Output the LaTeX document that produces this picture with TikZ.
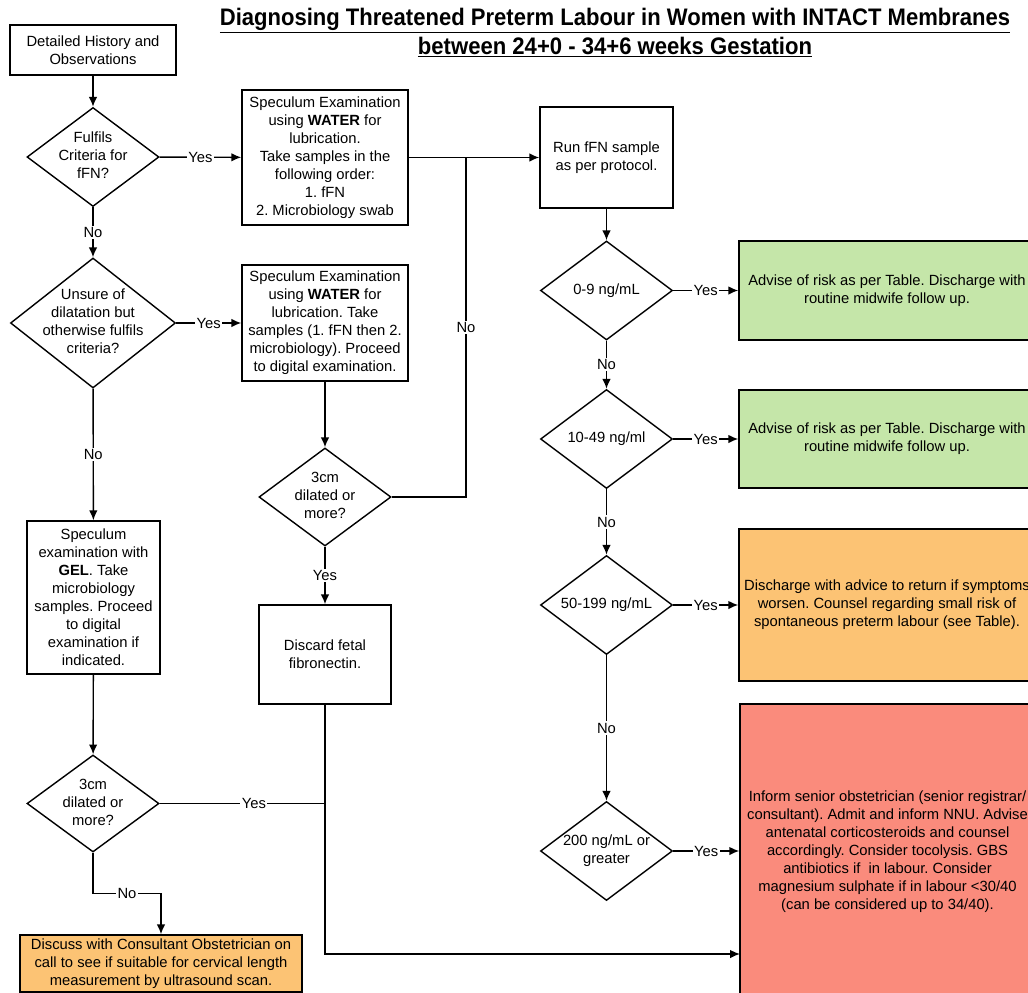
\documentclass[tikz,border=0pt]{standalone}
\usepackage{fontspec}
\setmainfont{Liberation Sans}
\usepackage{graphicx}
\usetikzlibrary{shapes.geometric, arrows.meta, positioning}
\tikzset{>={Latex[length=7pt, width=6pt]}}
\frenchspacing
\definecolor{lowrisk}{HTML}{C5E6A9}
\definecolor{midrisk}{HTML}{FCC374}
\definecolor{highrisk}{HTML}{FA8B7C}
% text of a decision, kept from growing the diamond
\newcommand{\qtext}[1]{\smash{\makebox[0pt]{\raisebox{-3pt}{\begin{tabular}{@{}c@{}}#1\end{tabular}}}}}
\tikzset{
  procbox/.style={draw, line width=1pt, align=center, inner sep=2pt},
  decision/.style={diamond, draw, line width=1pt, inner sep=0pt,
    minimum width=3.3cm, minimum height=2.475cm},
  lbl/.style={fill=white, inner sep=1pt},
}

\begin{document}
\begin{tikzpicture}[x=0.025cm, y=-0.025cm, line width=1pt,
  font=\fontsize{10.5}{12.8}\selectfont]
\useasboundingbox (0,0) rectangle (1028,993);
\clip (0,0) rectangle (1028,993);

\node (title1) at (615,21) {\resizebox{19.75cm}{\height}{\fontsize{17}{19}\selectfont\bfseries\underline{Diagnosing Threatened Preterm Labour in Women with INTACT Membranes}}};
\node (title2) at (615,47) {\resizebox{9.85cm}{\height}{\fontsize{17}{19}\selectfont\bfseries\underline{between 24+0 - 34+6 weeks Gestation}}};

% left column
\node[procbox, minimum width=4.15cm, minimum height=1.25cm] (hist) at (93,50) {Detailed History and\\Observations};
\node[decision] (d1) at (93,157) {\qtext{Fulfils\\Criteria for\\fFN?}};
\node[decision, minimum width=4.125cm, minimum height=3.25cm] (d2) at (93,323) {\qtext{Unsure of\\dilatation but\\otherwise fulfils\\criteria?}};
\node[procbox, minimum width=3.325cm, minimum height=3.825cm] (gel) at (93.5,597.5) {Speculum\\examination with\\\textbf{GEL}. Take\\microbiology\\samples. Proceed\\to digital\\examination if\\indicated.};
\node[decision, minimum height=2.425cm] (d4) at (93,803.5) {\qtext{3cm\\dilated or\\more?}};
\node[procbox, fill=midrisk, minimum width=7.05cm, minimum height=1.425cm] (consult) at (161,963.5) {Discuss with Consultant Obstetrician on\\call to see if suitable for cervical length\\measurement by ultrasound scan.};

% middle column
\node[procbox, minimum width=4.15cm, minimum height=3.375cm] (spec1) at (325,157.5) {Speculum Examination\\using \textbf{WATER} for\\lubrication.\\Take samples in the\\following order:\\1. fFN\\2. Microbiology swab};
\node[procbox, minimum width=4.15cm, minimum height=2.9cm] (spec2) at (325,323) {Speculum Examination\\using \textbf{WATER} for\\lubrication. Take\\samples (1. fFN then 2.\\microbiology). Proceed\\to digital examination.};
\node[decision, minimum height=2.45cm] (d3) at (325,497) {\qtext{3cm\\dilated or\\more?}};
\node[procbox, minimum width=3.3cm, minimum height=2.475cm] (discard) at (325,654.5) {Discard fetal\\fibronectin.};

% fFN column
\node[procbox, minimum width=3.325cm, minimum height=2.525cm] (run) at (606.5,157.5) {Run fFN sample\\as per protocol.};
\node[decision] (d5) at (606.5,290.5) {\qtext{0-9 ng/mL}};
\node[decision] (d6) at (606.5,439) {\qtext{10-49 ng/ml}};
\node[decision] (d7) at (606.5,605) {\qtext{50-199 ng/mL}};
\node[decision] (d8) at (606.5,851) {\qtext{200 ng/mL or\\greater}};

% outcomes
\node[procbox, fill=lowrisk, minimum width=7.4cm, minimum height=2.475cm] (green1) at (887,290.5) {Advise of risk as per Table. Discharge with\\routine midwife follow up.};
\node[procbox, fill=lowrisk, minimum width=7.4cm, minimum height=2.45cm] (green2) at (887,439) {Advise of risk as per Table. Discharge with\\routine midwife follow up.};
\node[procbox, fill=midrisk, minimum width=7.4cm, minimum height=3.8cm] (amber) at (887,605) {Discharge with advice to return if symptoms\\worsen. Counsel regarding small risk of\\spontaneous preterm labour (see Table).};
\node[procbox, fill=highrisk, minimum width=7.375cm, minimum height=7.4cm] (red) at (887.5,852) {Inform senior obstetrician (senior registrar/\\consultant). Admit and inform NNU. Advise\\antenatal corticosteroids and counsel\\accordingly. Consider tocolysis. GBS\\antibiotics if\ \ in labour. Consider\\magnesium sulphate if in labour <30/40\\(can be considered up to 34/40).};

\coordinate (j1) at (466,157.5);
\coordinate (j2) at (discard.south |- d4.east);
\coordinate (j3) at (740,954);

\draw[->] (hist) -- (d1);
\draw[->] (d1) -- node[lbl]{Yes} (spec1);
\draw[->] (spec1) -- (run);
\draw[->] (d1) -- node[lbl]{No} (d2);
\draw[->] (d2) -- node[lbl]{Yes} (spec2);
\draw[->] (d2) -- node[lbl]{No} (gel);
\draw[->] (spec2) -- (d3);
\draw (d3.east) -| node[lbl, pos=0.75]{No} (j1);
\draw[->] (d3) -- node[lbl]{Yes} (discard);
\draw[->] (gel) -- (d4);
\draw (d4) -- node[lbl, pos=0.57]{Yes} (j2);
\draw[->] (discard) |- (j3);
\draw[->] (d4.south) -- ++(0,41) -| node[lbl, pos=0.25]{No} (consult.north);

\draw[->] (run) -- (d5);
\draw[->] (d5) -- node[lbl]{Yes} (green1);
\draw[->] (d5) -- node[lbl]{No} (d6);
\draw[->] (d6) -- node[lbl]{Yes} (green2);
\draw[->] (d6) -- node[lbl]{No} (d7);
\draw[->] (d7) -- node[lbl]{Yes} (amber);
\draw[->] (d7) -- node[lbl]{No} (d8);
\draw[->] (d8.east) -- node[lbl]{Yes} (d8.east -| red.west);
\end{tikzpicture}
\end{document}
